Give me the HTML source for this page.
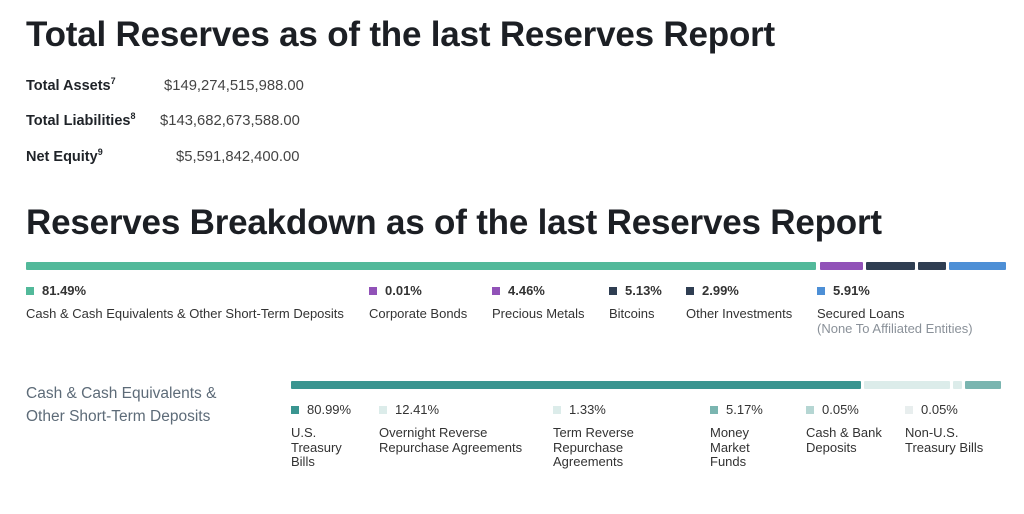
<!DOCTYPE html>
<html><head><meta charset="utf-8"><style>
body{margin:0;width:1024px;height:514px;background:#fff;font-family:"Liberation Sans",sans-serif;color:#1f2328;position:relative;overflow:hidden}
.a{position:absolute;white-space:nowrap}
h1{position:absolute;margin:0;font-size:35px;font-weight:bold;letter-spacing:-0.2px;color:#1c1f24;white-space:nowrap}
.lbl{font-size:14.5px;font-weight:bold}
.val{font-size:14.8px;color:#444}
.b{position:absolute;height:8px;border-radius:1px}
.pct{font-size:13px;font-weight:bold;color:#333}
.sq{display:inline-block;width:8px;height:8px;margin-right:8px;vertical-align:0px}
.t{font-size:13px;color:#333;line-height:14.5px}
.g{color:#8a9199}
</style></head><body>
<h1 style="left:26px;top:15px">Total Reserves as of the last Reserves Report</h1>
<div class="a lbl" style="left:26px;top:76px">Total Assets<sup style="font-size:9px">7</sup></div>
<div class="a val" style="left:164px;top:78px">$149,274,515,988.00</div>
<div class="a lbl" style="left:26px;top:111px">Total Liabilities<sup style="font-size:9px">8</sup></div>
<div class="a val" style="left:160px;top:113px">$143,682,673,588.00</div>
<div class="a lbl" style="left:26px;top:147px">Net Equity<sup style="font-size:9px">9</sup></div>
<div class="a val" style="left:176px;top:149px">$5,591,842,400.00</div>
<h1 style="left:26px;top:203px">Reserves Breakdown as of the last Reserves Report</h1>

<div class="b" style="left:26px;top:262px;width:790px;background:#52b99a"></div>
<div class="b" style="left:820px;top:262px;width:43px;background:#9152b8"></div>
<div class="b" style="left:866px;top:262px;width:49px;background:#2f3e52"></div>
<div class="b" style="left:918px;top:262px;width:28px;background:#2f3e52"></div>
<div class="b" style="left:949px;top:262px;width:57px;background:#4d8fd6"></div>

<div class="a pct" style="left:26px;top:283px"><span class="sq" style="background:#52b99a"></span>81.49%</div>
<div class="a t" style="left:26px;top:307px">Cash &amp; Cash Equivalents &amp; Other Short-Term Deposits</div>
<div class="a pct" style="left:369px;top:283px"><span class="sq" style="background:#9152b8"></span>0.01%</div>
<div class="a t" style="left:369px;top:307px">Corporate Bonds</div>
<div class="a pct" style="left:492px;top:283px"><span class="sq" style="background:#9152b8"></span>4.46%</div>
<div class="a t" style="left:492px;top:307px">Precious Metals</div>
<div class="a pct" style="left:609px;top:283px"><span class="sq" style="background:#2f3e52"></span>5.13%</div>
<div class="a t" style="left:609px;top:307px">Bitcoins</div>
<div class="a pct" style="left:686px;top:283px"><span class="sq" style="background:#2f3e52"></span>2.99%</div>
<div class="a t" style="left:686px;top:307px">Other Investments</div>
<div class="a pct" style="left:817px;top:283px"><span class="sq" style="background:#4d8fd6"></span>5.91%</div>
<div class="a t" style="left:817px;top:307px">Secured Loans<br><span class="g">(None To Affiliated Entities)</span></div>

<div class="a" style="left:26px;top:382px;font-size:15.5px;color:#5d6b78;line-height:23px">Cash &amp; Cash Equivalents &amp;<br>Other Short-Term Deposits</div>

<div class="b" style="left:291px;top:381px;width:570px;background:#3a9590"></div>
<div class="b" style="left:864px;top:381px;width:86px;background:#dcecea"></div>
<div class="b" style="left:953px;top:381px;width:9px;background:#dcecea"></div>
<div class="b" style="left:965px;top:381px;width:36px;background:#7ab5b0"></div>

<div class="a pct" style="left:291px;top:402px;font-weight:normal"><span class="sq" style="background:#3a9590"></span>80.99%</div>
<div class="a t" style="left:291px;top:426px">U.S.<br>Treasury<br>Bills</div>
<div class="a pct" style="left:379px;top:402px;font-weight:normal"><span class="sq" style="background:#dcecea"></span>12.41%</div>
<div class="a t" style="left:379px;top:426px">Overnight Reverse<br>Repurchase Agreements</div>
<div class="a pct" style="left:553px;top:402px;font-weight:normal"><span class="sq" style="background:#dcecea"></span>1.33%</div>
<div class="a t" style="left:553px;top:426px">Term Reverse<br>Repurchase<br>Agreements</div>
<div class="a pct" style="left:710px;top:402px;font-weight:normal"><span class="sq" style="background:#7ab5b0"></span>5.17%</div>
<div class="a t" style="left:710px;top:426px">Money<br>Market<br>Funds</div>
<div class="a pct" style="left:806px;top:402px;font-weight:normal"><span class="sq" style="background:#b5d6d3"></span>0.05%</div>
<div class="a t" style="left:806px;top:426px">Cash &amp; Bank<br>Deposits</div>
<div class="a pct" style="left:905px;top:402px;font-weight:normal"><span class="sq" style="background:#e8eeee"></span>0.05%</div>
<div class="a t" style="left:905px;top:426px">Non-U.S.<br>Treasury Bills</div>
</body></html>
